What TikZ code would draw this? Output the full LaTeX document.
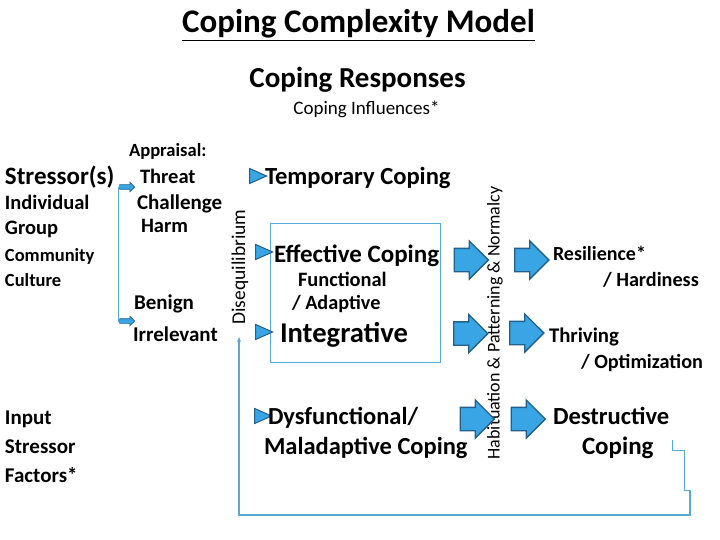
\documentclass[tikz,border=0pt]{standalone}
\usepackage{fontspec}
\setmainfont{Carlito}
\usetikzlibrary{shapes.arrows,shapes.geometric,arrows.meta}
\definecolor{afill}{RGB}{58,165,228}
\definecolor{aline}{RGB}{34,96,140}
\definecolor{lblue}{RGB}{88,170,214}
\newcommand\fsz[1]{\fontsize{#1}{#1}\selectfont}
\begin{document}
\begin{tikzpicture}[x=1pt,y=-1pt,
  lbl/.style={anchor=base west, inner sep=0pt, outer sep=0pt, font=\bfseries},
  ctr/.style={anchor=base, inner sep=0pt, outer sep=0pt},
  bigarrow/.style={single arrow, draw=aline, fill=afill, line width=1.3pt,
    minimum height=34pt, single arrow head extend=7.5pt,
    single arrow tip angle=90, inner sep=0pt},
  smallarrow/.style={single arrow, draw=aline, fill=afill, line width=0.6pt,
    minimum height=15pt, single arrow head extend=2.5pt,
    inner sep=0pt},
  tri/.style={isosceles triangle, isosceles triangle stretches, draw=aline,
    fill=afill, line width=1pt, minimum width=15pt, minimum height=17pt, inner sep=0pt},
  vtext/.style={rotate=90, inner sep=0pt},
  thinline/.style={draw=lblue, line width=0.8pt},
  fbline/.style={draw=lblue, line width=1.8pt}
]
\useasboundingbox[fill=white] (0,0) rectangle (720,540);

% titles
\node[ctr, font=\bfseries\fsz{33}] (title) at (358.5,33) {\underline{Coping Complexity Model}};
\node[ctr, font=\bfseries\fsz{29}] (resp) at (357.5,88) {Coping Responses};
\node[ctr, font=\fsz{19}] (infl) at (366.5,115) {Coping Influences*};

% left column
\node[lbl, font=\bfseries\fsz{25}] (stressor) at (5,185) {Stressor(s)};
\node[lbl, font=\bfseries\fsz{20.5}] (indiv) at (5,210) {Individual};
\node[lbl, font=\bfseries\fsz{20.5}] (group) at (5,234) {Group};
\node[lbl, font=\bfseries\fsz{18.5}] (comm) at (5,261) {Community};
\node[lbl, font=\bfseries\fsz{18.5}] (cult) at (5,286) {Culture};
\node[lbl, font=\bfseries\fsz{21}] (input) at (5,424) {Input};
\node[lbl, font=\bfseries\fsz{21}] (stressor2) at (5,453) {Stressor};
\node[lbl, font=\bfseries\fsz{21}] (factors) at (5,482) {Factors*};

% appraisal
\node[lbl, font=\bfseries\fsz{18.6}] (appr) at (129,157) {Appraisal:};
\node[lbl, font=\bfseries\fsz{20.5}] (threat) at (140,184) {Threat};
\node[lbl, font=\bfseries\fsz{21}] (chall) at (137,210) {Challenge};
\node[lbl, font=\bfseries\fsz{20.5}] (harm) at (141,233) {Harm};
\node[lbl, font=\bfseries\fsz{21}] (benign) at (134,309) {Benign};
\node[lbl, font=\bfseries\fsz{21}] (irrel) at (133,341) {Irrelevant};

% small arrows and stressor line
\node[smallarrow] (sa1) at (126,187) {\rule{0pt}{4pt}};
\node[smallarrow] (sa2) at (126,321) {\rule{0pt}{4pt}};
\draw[thinline] (sa1.west) -- ++(-1,0) |- (sa2.west);

% vertical texts
\node[vtext, font=\fsz{19.5}] (diseq) at (240,267) {Disequilibrium};
\node[vtext, font=\fsz{18}] (habit) at (495,323) {Habituation \& Patterning \& Normalcy};

% coping responses
\node[tri] (t0) at (254.5,176) {};
\node[lbl, font=\bfseries\fsz{24.6}] (temp) at (265,185) {Temporary Coping};
\node[draw=lblue, line width=0.8pt, minimum width=170pt, minimum height=139pt, inner sep=0pt] (box) at (355,292.5) {};
\node[tri] (t1) at (260.5,252) {};
\node[lbl, font=\bfseries\fsz{25}] (eff) at (274,262) {Effective Coping};
\node[lbl, font=\bfseries\fsz{20.4}] (func) at (298,286) {Functional};
\node[lbl, font=\bfseries\fsz{20.2}] (adapt) at (292,309) {/ Adaptive};
\node[tri] (t2) at (260.5,332) {};
\node[lbl, font=\bfseries\fsz{28.6}] (integ) at (280,342) {Integrative};
\node[tri] (t3) at (259.5,416) {};
\node[lbl, font=\bfseries\fsz{24.5}] (dysf) at (268,424) {Dysfunctional/};
\node[lbl, font=\bfseries\fsz{24.5}] (malad) at (264,454) {Maladaptive Coping};

% block arrows
\node[bigarrow] (a1) at (465.5,260) {\rule{0pt}{22pt}};
\node[bigarrow] (b1) at (526,260) {\rule{0pt}{22pt}};
\node[bigarrow] (a2) at (465,333.5) {\rule{0pt}{22pt}};
\node[bigarrow] (b2) at (521,333) {\rule{0pt}{22pt}};
\node[bigarrow] (a3) at (471.5,419) {\rule{0pt}{22pt}};
\node[bigarrow] (b3) at (522.5,419) {\rule{0pt}{22pt}};

% outcomes
\node[lbl, font=\bfseries\fsz{20}] (resil) at (553,260) {Resilience*};
\node[lbl, font=\bfseries\fsz{20.2}] (hard) at (603,286) {/ Hardiness};
\node[lbl, font=\bfseries\fsz{20.8}] (thriv) at (549,342) {Thriving};
\node[lbl, font=\bfseries\fsz{20.2}] (optim) at (581,368) {/ Optimization};
\node[lbl, font=\bfseries\fsz{24.6}] (destr) at (553,424) {Destructive};
\node[lbl, font=\bfseries\fsz{25}] (destc) at (582,454) {Coping};

% feedback line
\coordinate (fbstart) at (672,440);
\coordinate (fbend) at (239,337);
\draw[thinline] (fbstart) -- ++(0,10) -- ++(12,0) -- ++(0,40) -- ++(6,0);
\draw[fbline, -{Stealth[length=5pt,width=4pt]}] (690,490) -- (690,515) -- (239,515) -- (fbend);
\end{tikzpicture}
\end{document}
